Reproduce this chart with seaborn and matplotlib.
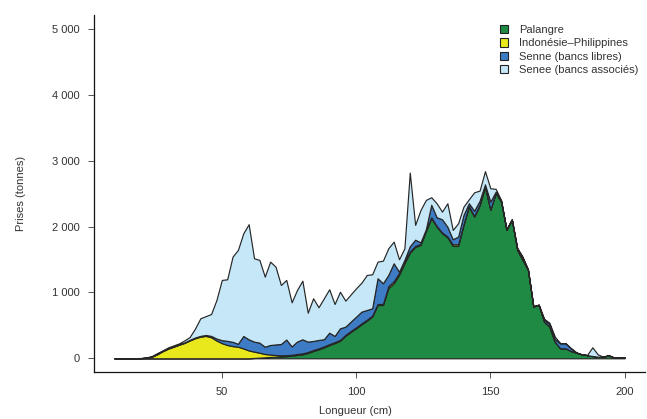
import matplotlib
matplotlib.use('Agg')
import matplotlib.pyplot as plt
import seaborn as sns
from matplotlib.patches import Patch

# tailles (cm), classes de 2 cm
longueur = list(range(10, 201, 2))

palangre = [0, 0, 0, 0, 0, 0, 0, 0, 0, 0,
            0, 0, 0, 0, 0, 0, 0, 0, 0, 0,
            0, 0, 0, 0, 0, 0, 5, 10, 15, 20,
            25, 28, 32, 40, 50, 60, 80, 110, 135, 165,
            200, 230, 265, 340, 400, 455, 515, 570, 632, 809,
            809, 1063, 1139, 1265, 1442, 1600, 1690, 1720, 1930, 2126,
            1998, 1898, 1837, 1705, 1705, 2024, 2300, 2150, 2320, 2606,
            2252, 2505, 2378, 1948, 2100, 1644, 1493, 1341, 784, 809,
            556, 480, 250, 152, 152, 110, 86, 60, 48, 35,
            25, 22, 45, 12, 10, 15]

indonesie = [0, 0, 0, 0, 0, 2, 8, 25, 62, 108,
             145, 175, 205, 232, 270, 304, 328, 340, 320, 270,
             230, 202, 185, 176, 150, 120, 96, 75, 50, 38,
             25, 17, 15, 12, 15, 15, 15, 15, 15, 15,
             15, 15, 15, 15, 15, 15, 15, 15, 15, 15,
             15, 30, 30, 30, 30, 20, 15, 15, 15, 14,
             12, 12, 13, 25, 25, 11, 10, 10, 10, 6,
             8, 5, 5, 4, 4, 4, 4, 3, 2, 2,
             2, 1, 1, 0, 0, 0, 0, 0, 0, 0,
             0, 0, 0, 0, 0, 0]

senne_libres = [0, 0, 0, 0, 0, 1, 2, 3, 8, 7,
                10, 7, 7, 8, 10, 11, 12, 14, 20, 30,
                45, 63, 65, 44, 189, 168, 152, 153, 111, 144,
                160, 172, 238, 128, 188, 213, 158, 138, 128, 109,
                174, 94, 175, 125, 141, 162, 178, 148, 112, 391,
                315, 172, 273, 20, 21, 80, 95, 25, 15, 190,
                131, 200, 148, 77, 117, 141, 43, 80, 60, 28,
                118, 20, 7, 3, 4, 22, 33, 2, 2, 2,
                32, 39, 39, 76, 76, 40, 2, 0, 0, 0,
                0, 0, 0, 0, 0, 0]

senne_associes = [0, 0, 0, 2, 3, 2, 5, 7, 10, 5,
                  10, 13, 13, 30, 42, 135, 267, 286, 332, 585,
                  914, 934, 1293, 1425, 1559, 1747, 1265, 1255, 1063, 1265,
                  1181, 896, 904, 670, 784, 890, 439, 648, 496, 622,
                  659, 485, 555, 395, 414, 431, 440, 532, 516, 252,
                  343, 405, 329, 188, 177, 1118, 224, 492, 444, 114,
                  212, 116, 355, 141, 202, 126, 61, 280, 155, 200,
                  203, 41, 10, 5, 4, 5, 13, 4, 2, 2,
                  10, 20, 40, 2, 2, 5, 2, 0, 2, 132,
                  35, 3, 5, 3, 2, 3]

series = ['Palangre', 'Indonésie\u2013Philippines', 'Senne (bancs libres)', 'Senee (bancs associés)']
couleurs = ['#1f8a44', '#e9e81c', '#3d7cc4', '#c5e7f7']

x_ticks = [50, 100, 150, 200]
y_ticks = [0, 1000, 2000, 3000, 4000, 5000]
y_labels = ['0', '1 000', '2 000', '3 000', '4 000', '5 000']

sns.set_style('ticks')
plt.rcParams['font.family'] = ['Liberation Sans', 'DejaVu Sans']

fig = plt.figure(figsize=(6.47, 4.19), dpi=100)
ax = fig.add_axes([94 / 647, 1 - 372 / 419, 551 / 647, 357 / 419])

ax.stackplot(longueur, palangre, indonesie, senne_libres, senne_associes,
             colors=couleurs, edgecolor='#262626', linewidth=0.85)

ax.set_xlim(2.4, 207.6)
ax.set_ylim(-208, 5210)
ax.set_xticks(x_ticks)
ax.set_yticks(y_ticks)
ax.set_yticklabels(y_labels)
ax.tick_params(axis='both', direction='out', length=4.5, width=0.7, color='#555555',
               labelsize=8, labelcolor='#333333')
ax.tick_params(axis='y', pad=6)
ax.tick_params(axis='x', pad=6)
sns.despine(ax=ax)
for s in ['left', 'bottom']:
    ax.spines[s].set_linewidth(0.9)
    ax.spines[s].set_color('#111111')

ax.set_xlabel('Longueur (cm)', fontsize=8, color='#333333')
ax.set_ylabel('Prises (tonnes)', fontsize=8, color='#333333')
ax.xaxis.set_label_coords((355 - 94) / 551, (372 - 406) / 357)
ax.yaxis.set_label_coords((26 - 94) / 551, (372 - 193) / 357)

handles = [Patch(facecolor=c, edgecolor='#222222', linewidth=0.8) for c in couleurs]
ax.legend(handles, series, loc='upper left', bbox_to_anchor=(500 / 647, 1 - 25 / 419),
          bbox_transform=fig.transFigure, frameon=False, fontsize=8,
          handlelength=0.75, handleheight=0.75, handletextpad=1.0, labelspacing=0.3,
          borderpad=0, borderaxespad=0, labelcolor='#333333')

fig.savefig('out.png', dpi=100)
